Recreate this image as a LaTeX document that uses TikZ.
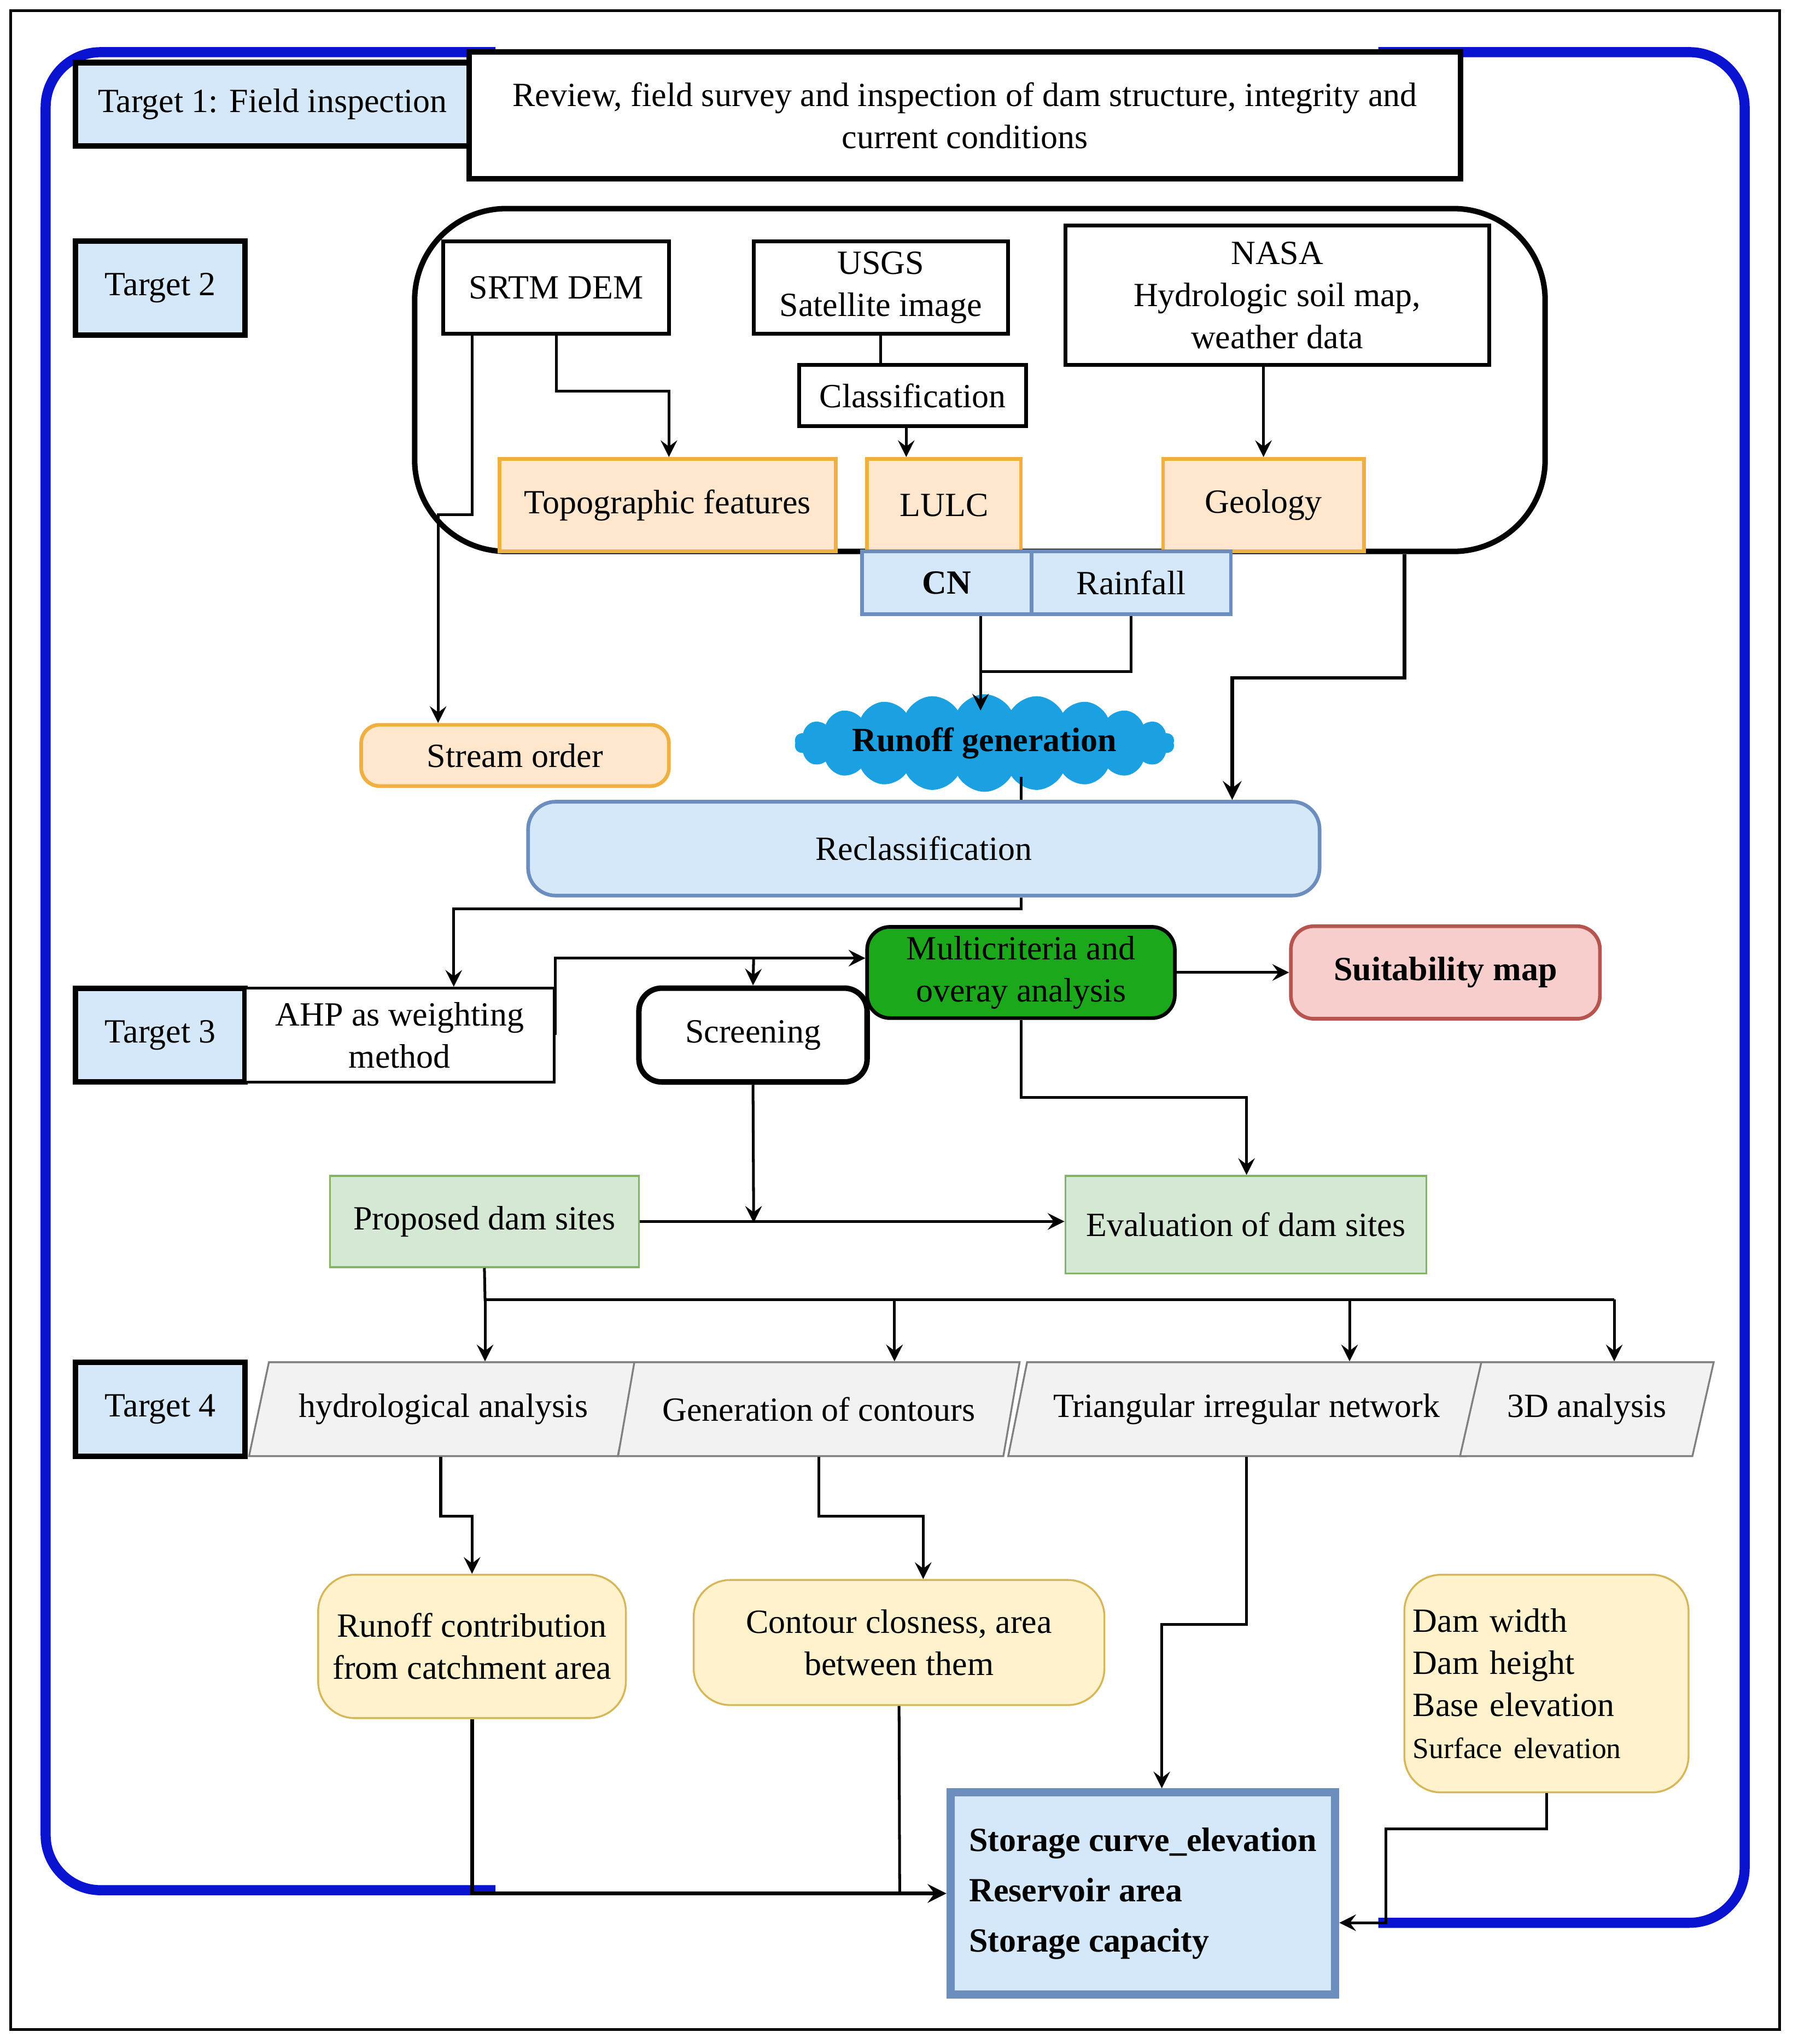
\documentclass[tikz,border=0pt]{standalone}
\usepackage{fontspec}
\setmainfont{Liberation Serif}
\usepackage{tikz}
\usetikzlibrary{arrows,shapes,shapes.geometric,shapes.symbols,positioning,fit,backgrounds}
\definecolor{tblue}{HTML}{D5E8F9}
\definecolor{bblue}{HTML}{6C8EBF}
\definecolor{frameblue}{HTML}{0A14D0}
\definecolor{orfill}{HTML}{FFE6CC}
\definecolor{ordraw}{HTML}{F0B040}
\definecolor{grfill}{HTML}{D5E8D4}
\definecolor{grdraw}{HTML}{82B366}
\definecolor{yefill}{HTML}{FFF2CC}
\definecolor{yedraw}{HTML}{D6B656}
\definecolor{refill}{HTML}{F8CECC}
\definecolor{redraw}{HTML}{B85450}
\definecolor{multigreen}{HTML}{1BA81B}
\definecolor{cloudblue}{HTML}{1BA1E2}
\tikzset{
  txt/.style={font=\fontsize{7.4}{9.2}\selectfont, align=center, inner sep=1pt},
  plainbox/.style={txt, draw, thick, fill=white},
  targetbox/.style={txt, draw, very thick, fill=tblue},
  bluebox/.style={txt, draw=bblue, thick, fill=tblue},
  orbox/.style={txt, draw=ordraw, thick, fill=orfill},
  grbox/.style={txt, draw=grdraw, fill=grfill},
  yebox/.style={txt, draw=yedraw, fill=yefill, rounded corners=8pt},
  datashape/.style={txt, draw=gray, fill=gray!10, trapezium, trapezium left angle=67,
    trapezium right angle=113, trapezium stretches=true, minimum height=0.72cm},
  link/.style={-stealth, semithick},
  biglink/.style={-stealth, thick}
}
\begin{document}
\begin{tikzpicture}[x=0.1mm, y=-0.1mm]
            \useasboundingbox (0,0) rectangle (1375,1568);
            \draw[semithick] (8,8) rectangle (1365,1557);
            % Surrounding loop
            \draw[line width=2.2pt, frameblue, rounded corners=12pt] (380,40) -- (35,40) -- (35,1450) -- (380,1450);
            \draw[line width=2.2pt, frameblue, rounded corners=12pt] (1057,40) -- (1338,40) -- (1338,1475) -- (1057,1475);

            % Target 1
            \node[targetbox, minimum width=3.02cm, minimum height=0.64cm] (t1) at (209,80) {Target 1: Field inspection};
            \node[plainbox, very thick, minimum width=7.6cm, minimum height=0.97cm] (review) at (740,88.5) {Review, field survey and inspection of dam structure, integrity and\\ current conditions};

            % Target 2
            \node[targetbox, minimum width=1.3cm, minimum height=0.72cm] (t2) at (123,221) {Target 2};
            \node[draw, very thick, rounded corners=20pt, minimum width=8.67cm, minimum height=2.63cm] (group) at (751.5,291.5) {};
            \node[plainbox, minimum width=1.73cm, minimum height=0.71cm] (srtm) at (426.5,220.5) {SRTM DEM};
            \node[plainbox, minimum width=1.95cm, minimum height=0.71cm] (usgs) at (675.5,220.5) {USGS\\ Satellite image};
            \node[plainbox, minimum width=3.25cm, minimum height=1.07cm] (nasa) at (979.5,226.5) {NASA\\ Hydrologic soil map,\\ weather data};
            \node[plainbox, minimum width=1.74cm, minimum height=0.47cm] (class) at (700,303.5) {Classification};
            \node[orbox, minimum width=2.58cm, minimum height=0.71cm] (topo) at (512,387.5) {Topographic features};
            \node[orbox, minimum width=1.18cm, minimum height=0.71cm] (lulc) at (724,387.5) {LULC};
            \node[orbox, minimum width=1.54cm, minimum height=0.71cm] (geo) at (969,387.5) {Geology};
            \node[bluebox, minimum width=1.3cm, minimum height=0.48cm, font=\fontsize{7.4}{9.2}\selectfont\bfseries] (cn) at (726,447) {CN};
            \node[bluebox, minimum width=1.53cm, minimum height=0.48cm] (rain) at (867.5,447) {Rainfall};
            \node[orbox, rounded corners=4pt, minimum width=2.36cm, minimum height=0.47cm] (stream) at (395,579.5) {Stream order};
            \node[txt, cloud, cloud puffs=22, cloud puff arc=130, aspect=6, inner sep=0pt, fill=cloudblue, draw=cloudblue,
              minimum width=2.9cm, minimum height=0.5cm, font=\fontsize{7.4}{9.2}\selectfont\bfseries] (runoff) at (755,570) {Runoff generation};
            \node[bluebox, rounded corners=6pt, minimum width=6.07cm, minimum height=0.72cm] (reclass) at (708.5,651) {Reclassification};

            % Target 3
            \node[targetbox, minimum width=1.3cm, minimum height=0.72cm] (t3) at (123,794) {Target 3};
            \node[plainbox, semithick, minimum width=2.37cm, minimum height=0.72cm] (ahp) at (306.5,794) {AHP as weighting\\ method};
            \node[plainbox, very thick, rounded corners=5pt, minimum width=1.75cm, minimum height=0.72cm] (screen) at (577.5,794) {Screening};
            \node[txt, draw, thick, fill=multigreen, rounded corners=5pt, minimum width=2.36cm, minimum height=0.7cm] (multi) at (783,746) {Multicriteria and\\ overay analysis};
            \node[txt, draw=redraw, thick, fill=refill, rounded corners=5pt, minimum width=2.37cm, minimum height=0.71cm,
              font=\fontsize{7.4}{9.2}\selectfont\bfseries] (suit) at (1108.5,746) {Suitability map};
            \node[grbox, minimum width=2.37cm, minimum height=0.7cm] (prop) at (371.5,937) {Proposed dam sites};
            \node[grbox, minimum width=2.77cm, minimum height=0.75cm] (eval) at (955.5,939.5) {Evaluation of dam sites};

            % Target 4
            \node[targetbox, minimum width=1.3cm, minimum height=0.72cm] (t4) at (123,1081) {Target 4};
            \node[datashape, minimum width=3.0cm] (hydro) at (340,1081) {hydrological analysis};
            \node[datashape, minimum width=3.1cm] (cont) at (628,1081) {Generation of contours};
            \node[datashape, minimum width=3.68cm] (tin) at (956,1081) {Triangular irregular network};
            \node[datashape, minimum width=1.95cm] (d3) at (1217,1081) {3D analysis};
            \node[yebox, minimum width=2.36cm, minimum height=1.1cm] (runc) at (362,1263) {Runoff contribution\\ from catchment area};
            \node[yebox, minimum width=3.15cm, minimum height=0.96cm] (clos) at (689.5,1260) {Contour closness, area\\ between them};
            \node[yebox, align=left, text width=2.05cm, minimum width=2.18cm, minimum height=1.67cm] (damw) at (1186,1291.5) {Dam width\\ Dam height\\ Base elevation\\ {\fontsize{6.4}{9}\selectfont Surface elevation}};
            \node[txt, draw=bblue, line width=1.8pt, fill=tblue, align=left, minimum width=2.95cm, minimum height=1.55cm,
              font=\fontsize{7.4}{11}\selectfont\bfseries] (store) at (876.5,1452.5) {Storage curve\_elevation\\ Reservoir area\\ Storage capacity};

            % Connectors
            \draw[link] (srtm.south -| 362,0) -- (362,395) -- (336,395) -- (stream.north -| 336,0);
            \draw[link] (srtm.south) |- (513,300) -- (topo.north -| 513,0);
            \draw[semithick] (usgs.south) -- (class.north -| usgs.south);
            \draw[link] (class.south -| 695,0) -- (lulc.north -| 695,0);
            \draw[link] (nasa.south -| geo.north) -- (geo.north);
            \draw[link] (cn.south -| 752,0) -- (752,545);
            \draw[semithick] (rain.south) |- (752,515);
            \draw[biglink] (group.south -| 1077,0) |- (945,520) -- (reclass.north -| 945,0);
            \draw[semithick] (783,596) -- (reclass.north -| 783,0);
            \draw[link] (reclass.south -| 783,0) |- (348,697) -- (ahp.north -| 348,0);
            \draw[link] (ahp.east) |- (multi.west |- 0,735);
            \draw[link] (578,735) -- (screen.north);
            \draw[link] (multi.east) -- (suit.west);
            \draw[link] (multi.south) |- (956,842) -- (eval.north -| 956,0);
            \draw[link] (screen.south) -- (578,938);
            \draw[link] (prop.east) -- (prop.east -| eval.west);
            \draw[semithick] (prop.south) -- (372,997) -- (1238,997);
            \draw[link] (372,997) -- (hydro.north -| 372,0);
            \draw[link] (686,997) -- (cont.north -| 686,0);
            \draw[link] (1035,997) -- (tin.north -| 1035,0);
            \draw[link] (1238,997) -- (d3.north -| 1238,0);
            \draw[link] (hydro.south -| 338,0) |- (362,1163) -- (runc.north);
            \draw[link] (cont.south) |- (708,1163) -- (clos.north -| 708,0);
            \draw[link] (tin.south) |- (891,1246) -- (store.north -| 891,0);
            \draw[biglink] (runc.south) |- (store.west);
            \draw[semithick] (clos.south) -- (690,1453);
            \draw[link] (damw.south) |- (1063,1403) |- (store.east |- 0,1475);
\end{tikzpicture}
\end{document}
